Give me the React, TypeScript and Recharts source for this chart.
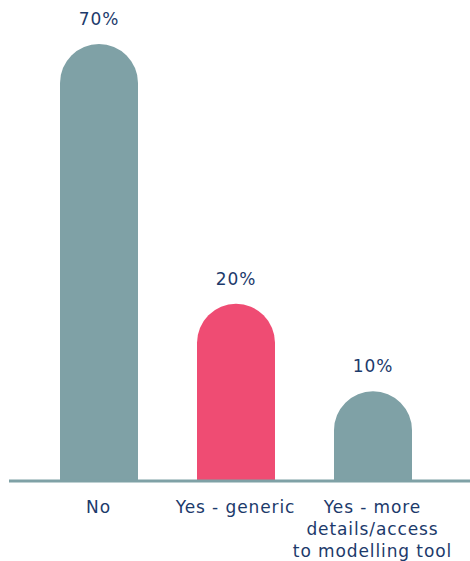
import { BarChart, Bar, XAxis, YAxis, Cell, LabelList } from "recharts";

// categories (line breaks as in the original labels)
const categories = ["No", "Yes - generic", "Yes - more\ndetails/access\nto modelling tool"];
// share of respondents, %
const shares = [70, 20, 10];
const barColors = ["#7fa1a6", "#ef4c73", "#7fa1a6"];

const data = categories.map((name, i) => ({ name, value: shares[i] }));

const TEXT = "#1c3a6b";
const FONT = "'DejaVu Sans', sans-serif";

function CategoryTick({ x, y, payload }: any) {
  const lines = String(payload.value).split("\n");
  return (
    <text
      x={x}
      y={y}
      textAnchor="middle"
      fill={TEXT}
      fontSize={17}
      fontFamily={FONT}
      letterSpacing={0.9}
    >
      {lines.map((line, i) => (
        <tspan key={i} x={x} dy={i === 0 ? 32 : 22}>
          {line}
        </tspan>
      ))}
    </text>
  );
}

export default function App() {
  return (
    <div style={{ position: "absolute", left: 0, top: 0 }}>
      <BarChart
        width={470}
        height={561}
        data={data}
        margin={{ top: 44, right: 0, left: 9, bottom: 0 }}
        style={{ fontFamily: FONT }}
      >
        {/* bar heights in the source aren't linear in the value; sqrt fits them best */}
        <YAxis hide type="number" scale="sqrt" domain={[3.3, 70]} allowDataOverflow />
        <XAxis
          dataKey="name"
          height={80}
          padding={{ left: 21, right: 29 }}
          tickLine={false}
          tickSize={0}
          tickMargin={0}
          axisLine={{ stroke: "#7fa1a6", strokeWidth: 3 }}
          tick={<CategoryTick />}
          interval={0}
        />
        <Bar dataKey="value" barSize={78} radius={[39, 39, 0, 0]} isAnimationActive={false}>
          {data.map((d, i) => (
            <Cell key={d.name} fill={barColors[i]} />
          ))}
          <LabelList
            dataKey="value"
            position="top"
            offset={19}
            formatter={(v: any) => `${v}%`}
            fill={TEXT}
            fontSize={17}
            fontFamily={FONT}
            letterSpacing={0.9}
          />
        </Bar>
      </BarChart>
    </div>
  );
}
